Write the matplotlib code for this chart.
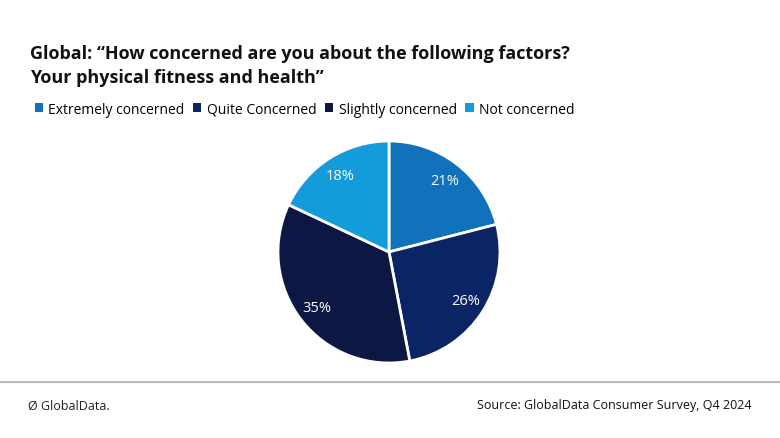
import matplotlib.pyplot as plt
from matplotlib.lines import Line2D
from matplotlib.patches import Patch

labels = ["Extremely concerned", "Quite Concerned", "Slightly concerned", "Not concerned"]
values = [21, 26, 35, 18]
colors = ["#0f72ba", "#0a2466", "#0c1743", "#139bdb"]

plt.rcParams['font.family'] = ['Open Sans', 'DejaVu Sans']

fig = plt.figure(figsize=(7.8, 4.39), dpi=100)

# title
fig.text(30/780, 1 - 54/439, "Global: \u201cHow concerned are you about the following factors?",
         fontsize=13, fontweight='bold', va='center', ha='left', color='#111111')
fig.text(30/780, 1 - 78/439, "Your physical fitness and health\u201d",
         fontsize=13, fontweight='bold', va='center', ha='left', color='#111111')

# pie
ax = fig.add_axes([0.4987 - 0.1423, 0.4237 - 0.2528, 0.2846, 0.5057])
wedges, texts, autotexts = ax.pie(values, colors=colors, startangle=90, counterclock=False,
                                  autopct=lambda p: f"{p:.0f}%", pctdistance=0.82,
                                  wedgeprops=dict(edgecolor='white', linewidth=2),
                                  textprops=dict(color='white', fontsize=10.5))
ax.set_xlim(-1, 1)
ax.set_ylim(-1, 1)
ax.set_aspect('equal')

# legend
handles = [Patch(facecolor=c, label=l) for c, l in zip(colors, labels)]
fig.legend(handles=handles, loc='center left', bbox_to_anchor=(22/780, 1 - 110/439),
           ncol=4, frameon=False, fontsize=10, handlelength=0.6, handleheight=0.6,
           handletextpad=0.4, columnspacing=0.6)

# footer
fig.add_artist(Line2D([0, 1], [1 - 383/439, 1 - 383/439], color='#bbbbbb', linewidth=1.5))
fig.text(28/780, 1 - 406/439, "\u00d8 GlobalData.", fontsize=9, va='center', ha='left', color='#222222')
fig.text(752/780, 1 - 406/439, "Source: GlobalData Consumer Survey, Q4 2024",
         fontsize=9, va='center', ha='right', color='#111111')

fig.savefig("out.png", dpi=100)
